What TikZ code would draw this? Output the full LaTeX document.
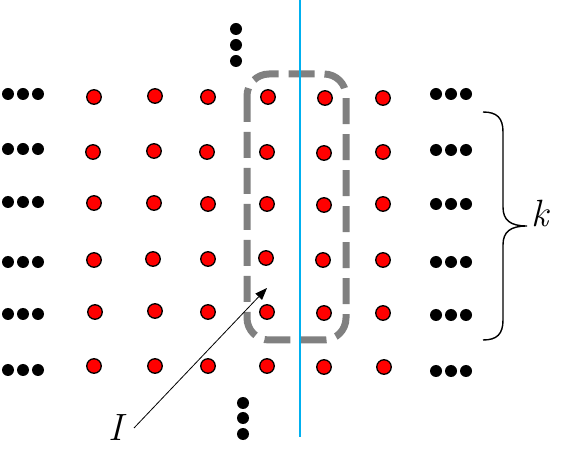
\documentclass[tikz,border=0pt]{standalone}
\usepackage{fontspec}
\usetikzlibrary{arrows.meta}
\definecolor{dotred}{RGB}{255,0,0}
\definecolor{linecyan}{RGB}{0,176,240}
\definecolor{boxgray}{RGB}{128,128,128}
\tikzset{
  reddot/.style={circle,draw=black,fill=dotred,line width=1.3pt,minimum size=14.5pt,inner sep=0pt},
  blackdot/.style={circle,fill=black,minimum size=12pt,inner sep=0pt},
  labeltext/.style={inner sep=0pt,font=\fontsize{38}{42}\selectfont\itshape},
  selbox/.style={draw=boxgray,line width=7pt,rounded corners=22pt,dash pattern=on 26pt off 10pt},
  cutline/.style={draw=linecyan,line width=2pt},
  bracepath/.style={draw=black,line width=1.4pt},
  pointer/.style={draw=black,line width=0.8pt,-{Triangle[length=12pt,width=9pt]}}
}
\begin{document}
\begin{tikzpicture}[x=1pt,y=-1pt]
\useasboundingbox (0,0) rectangle (568,454);
% red dots
\foreach \r/\pts in {1/{94/97,155/96,208/97,268/97,325/98,383/98},
                     2/{93/152,154/151,207/152,267/152,324/153,383/152},
                     3/{94/203,154/203,208/204,267/204,324/205,383/204},
                     4/{94/260,153/259,208/259,266/258,323/260,383/260},
                     5/{95/312,155/311,208/312,267/312,324/313,383/313},
                     6/{94/366,155/366,208/366,267/366,324/367,384/367}}{
  \foreach \x/\y [count=\c] in \pts {
    \node[reddot] (r\r-\c) at (\x,\y) {};
  }
}
% left and right ellipses
\foreach \yl/\yr [count=\r] in {94/94,149/150,202/204,262/262,314/315,370/371}{
  \foreach \x [count=\c] in {8,23,38}{\node[blackdot] (L\r-\c) at (\x,\yl) {};}
  \foreach \x [count=\c] in {436,451,466}{\node[blackdot] (R\r-\c) at (\x,\yr) {};}
}
% top and bottom vertical ellipses
\foreach \y [count=\c] in {29,45,61}{\node[blackdot] (T\c) at (236,\y) {};}
\foreach \y [count=\c] in {403,418,434}{\node[blackdot] (B\c) at (243,\y) {};}
% dashed selection box
\draw[selbox] (247,74) rectangle (346,340);
% cyan line
\coordinate (ctop) at (300,0);
\coordinate (cbot) at (300,437);
\draw[cutline] (ctop) -- (cbot);
% brace
\draw[bracepath] (483,112) .. controls (497,112) and (503,118) .. (503,132)
  -- (503,207) .. controls (503,220) and (510,226) .. (527,226)
  .. controls (510,226) and (503,232) .. (503,245)
  -- (503,320) .. controls (503,334) and (497,340) .. (483,340);
\node[labeltext,anchor=base west] (klab) at (531,227) {k};
% label I and pointer
\node[labeltext,anchor=base west] (Ilab) at (108,441) {I};
\coordinate (pstart) at (134,428);
\coordinate (pend) at (267,288);
\draw[pointer] (pstart) -- (pend);
\end{tikzpicture}
\end{document}
